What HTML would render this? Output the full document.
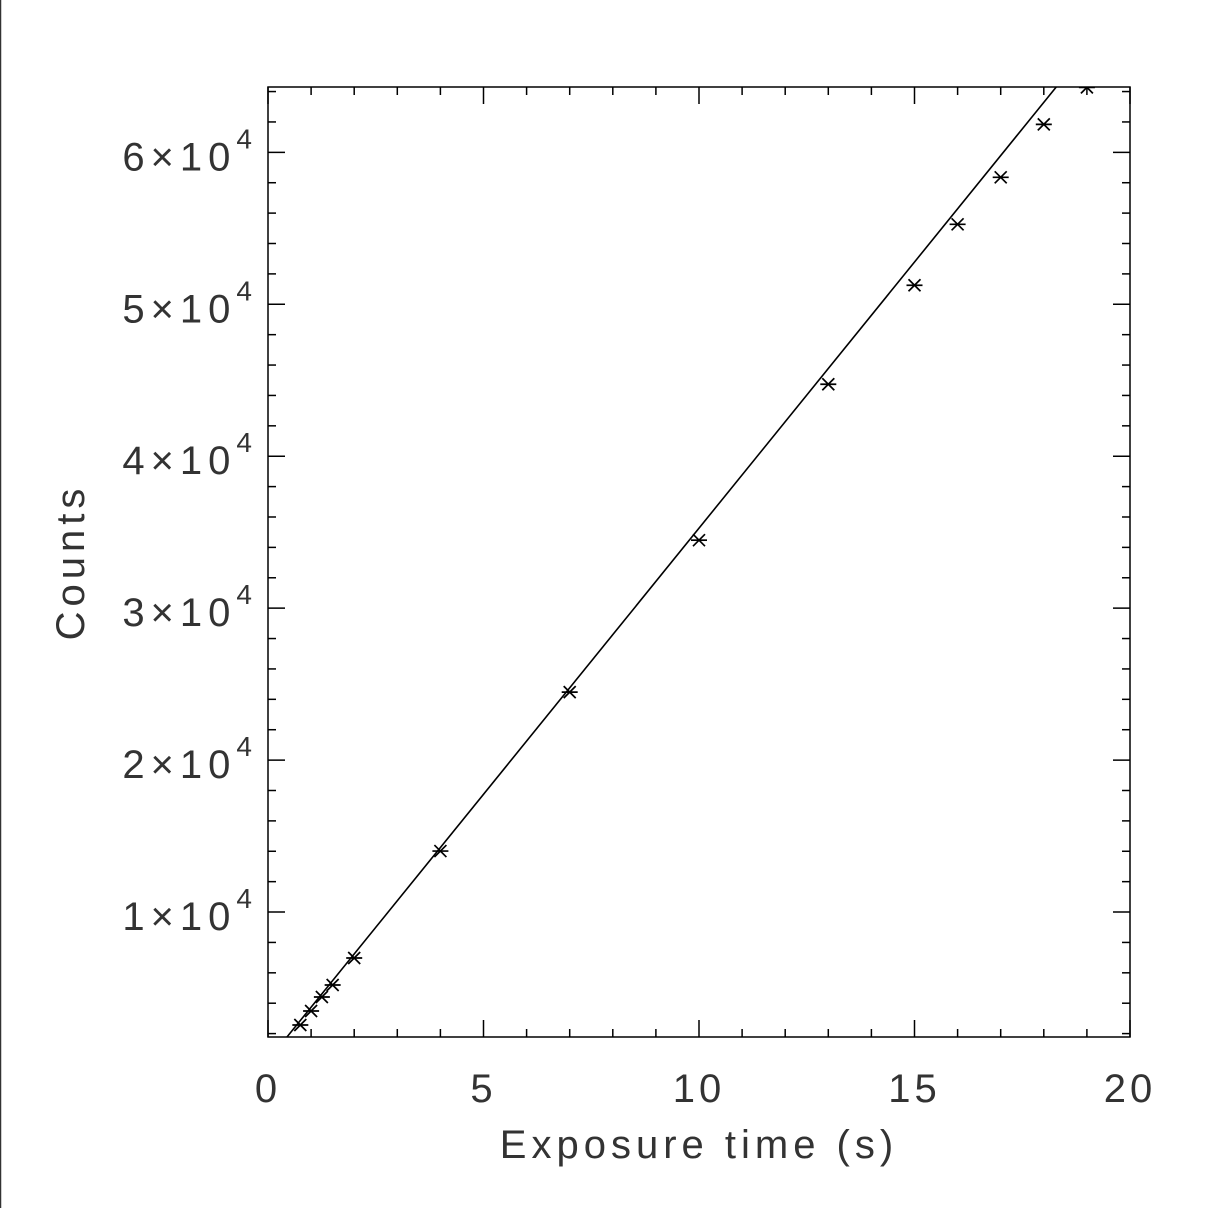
<!DOCTYPE html>
<html><head><meta charset="utf-8"><style>
html,body{margin:0;padding:0;background:#fff;}
svg{display:block;}
text{font-family:"Liberation Sans",sans-serif;font-weight:normal;fill:#333;}
</style></head><body>
<svg id="chart" width="1210" height="1208" viewBox="0 0 1210 1208" xmlns="http://www.w3.org/2000/svg">
<line x1="0.5" y1="0" x2="0.5" y2="1208" stroke="#333" stroke-width="1.5"/>
<g id="axes"></g>
<g id="marks"></g>
</svg>
<script>
const exposureTimes=[0.75,1,1.25,1.5,2,4,7,10,13,15,16,17,18,19];
const counts=[2566,3487,4408,5197,6974,14013,24474,34474,44737,51250,55263,58355,61842,64276];
const fitSlope=3503;
const fitIntercept=235;
const xTicks=[0,5,10,15,20];
const yTicks=[1,2,3,4,5,6];
const xMin=0,xMax=20,yMin=1776,yMax=64300;
const L=268,R=1130,T=87,B=1037;
const ns="http://www.w3.org/2000/svg";
const sx=v=>L+(v-xMin)/(xMax-xMin)*(R-L);
const sy=v=>B-(v-yMin)/(yMax-yMin)*(B-T);
function mk(tag,attrs,parent){const e=document.createElementNS(ns,tag);for(const k in attrs)e.setAttribute(k,attrs[k]);parent.appendChild(e);return e;}
const axes=document.getElementById('axes'),marks=document.getElementById('marks');
const frame=mk('rect',{x:L,y:T,width:R-L,height:B-T,fill:'none',stroke:'#000','stroke-width':1.5},axes);


for(let v=0;v<=20;v++){const x=sx(v);const len=v%5===0?17:8;
 const t1=mk('line',{x1:x,y1:B,x2:x,y2:B-len,stroke:'#000','stroke-width':1.5},axes);
 
 
 const t2=mk('line',{x1:x,y1:T,x2:x,y2:T+len,stroke:'#000','stroke-width':1.5},axes);
 
 }
xTicks.forEach(v=>{const t=mk('text',{x:sx(v),y:1102,'font-size':40,'text-anchor':'middle','letter-spacing':'4'},axes);t.textContent=v;
 
 });
for(let v=2000;v<=64000;v+=2000){const y=sy(v);const len=v%10000===0?17:8;
 const t1=mk('line',{x1:L,y1:y,x2:L+len,y2:y,stroke:'#000','stroke-width':1.5},axes);
 
 
 const t2=mk('line',{x1:R,y1:y,x2:R-len,y2:y,stroke:'#000','stroke-width':1.5},axes);
 
 }
yTicks.forEach(v=>{const t=mk('text',{x:258,y:sy(v*10000)+18,'font-size':40,'text-anchor':'end','letter-spacing':'6'},axes);
 t.innerHTML=v+'×10<tspan dy="-22" font-size="28">4</tspan>';
 
 });
const xt=mk('text',{x:699,y:1158,'font-size':40,'text-anchor':'middle','letter-spacing':'5'},axes);xt.textContent='Exposure time (s)';


const yt=mk('text',{x:0,y:0,'font-size':40,'text-anchor':'middle','letter-spacing':'5',transform:'translate(84,562) rotate(-90)'},axes);yt.textContent='Counts';


const cp=mk('clipPath',{id:'clip'},marks);mk('rect',{x:L,y:T,width:R-L,height:B-T},cp);
const x0=(yMin-fitIntercept)/fitSlope,x1=(yMax-fitIntercept)/fitSlope;
const fl=mk('line',{x1:sx(x0),y1:sy(fitSlope*x0+fitIntercept),x2:sx(x1),y2:sy(fitSlope*x1+fitIntercept),stroke:'#000','stroke-width':1.6,'clip-path':'url(#clip)'},marks);


exposureTimes.forEach((t,i)=>{const x=sx(t),y=sy(counts[i]),s=6;
 const g=mk('g',{'clip-path':'url(#clip)',stroke:'#000','stroke-width':1.7},marks);
 
 
 mk('line',{x1:x-s,y1:y-s,x2:x+s,y2:y+s},g);
 mk('line',{x1:x-s,y1:y+s,x2:x+s,y2:y-s},g);
 mk('line',{x1:x-8,y1:y,x2:x+8,y2:y},g);});
</script>
</body></html>
